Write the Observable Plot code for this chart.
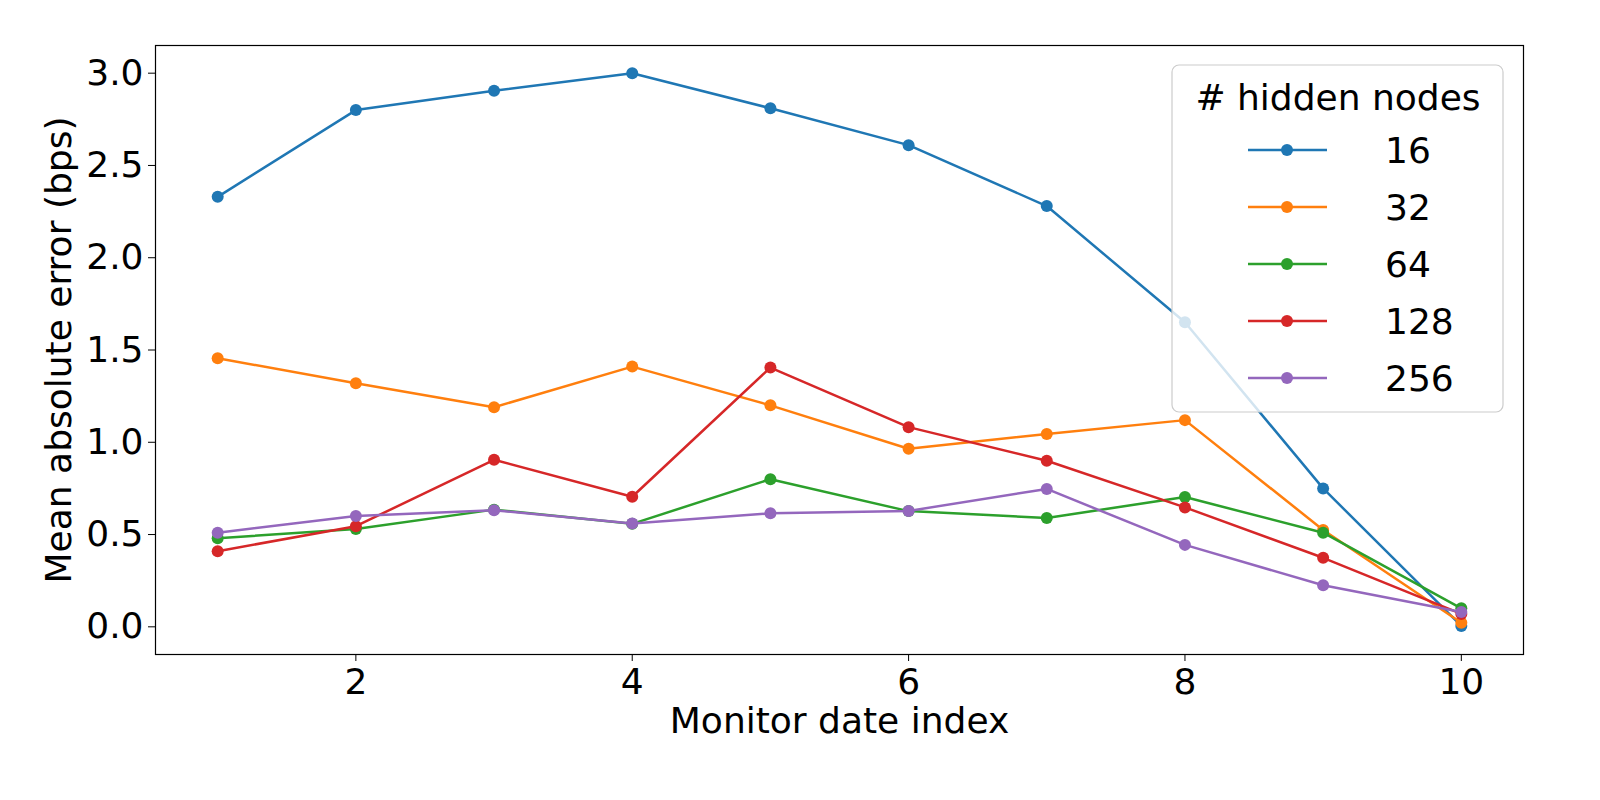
<!DOCTYPE html>
<html><head><meta charset="utf-8">
<script src="https://cdn.jsdelivr.net/npm/d3@7"></script>
<script src="https://cdn.jsdelivr.net/npm/@observablehq/plot@0.6"></script>
<style>html,body{margin:0;padding:0;background:#fff;overflow:hidden;} #chart{width:1600px;height:800px;} #chart svg{display:block;max-width:none;}</style>
</head><body><div id="chart"></div>
<script>
const dateIndex = [1, 2, 3, 4, 5, 6, 7, 8, 9, 10];
const seriesNames = ["16", "32", "64", "128", "256"];
const mae16  = [2.33, 2.80, 2.905, 3.00, 2.81, 2.61, 2.28, 1.65, 0.75, 0.005];
const mae32  = [1.455, 1.32, 1.19, 1.41, 1.20, 0.965, 1.045, 1.12, 0.525, 0.022];
const mae64  = [0.48, 0.53, 0.635, 0.558, 0.80, 0.627, 0.59, 0.703, 0.51, 0.10];
const mae128 = [0.41, 0.545, 0.905, 0.705, 1.405, 1.082, 0.90, 0.647, 0.374, 0.07];
const mae256 = [0.51, 0.60, 0.632, 0.56, 0.615, 0.628, 0.747, 0.444, 0.225, 0.08];
const seriesValues = [mae16, mae32, mae64, mae128, mae256];
const palette = ["#1f77b4", "#ff7f0e", "#2ca02c", "#d62728", "#9467bd"];
const xTicks = [2, 4, 6, 8, 10];
const yTicks = [0, 0.5, 1, 1.5, 2, 2.5, 3];
const xLabel = "Monitor date index";
const yLabel = "Mean absolute error (bps)";
const legendTitle = "# hidden nodes";

const rows = seriesNames.flatMap((name, i) =>
  dateIndex.map((d, j) => ({nodes: name, index: d, mae: seriesValues[i][j]})));

const FONT = "DejaVu Sans";
const marks = [];
for (const name of seriesNames) {
  const sub = rows.filter(r => r.nodes === name);
  marks.push(Plot.line(sub, {x: "index", y: "mae", stroke: "nodes", strokeWidth: 2.5}));
  marks.push(Plot.dot(sub, {x: "index", y: "mae", fill: "nodes", r: 6}));
}

const svg = Plot.plot({
  width: 1600, height: 800,
  marginLeft: 155, marginRight: 77, marginTop: 45, marginBottom: 146,
  style: {fontFamily: FONT, fontSize: "36px", color: "black", background: "white"},
  x: {domain: [0.55, 10.45]},
  y: {domain: [-0.15, 3.15]},
  color: {domain: seriesNames, range: palette},
  marks: [
    ...marks,
    Plot.frame({stroke: "black", strokeWidth: 1.2}),
    Plot.axisX({ticks: xTicks, tickSize: 7, tickPadding: 7, fontSize: 36, label: null, tickFormat: d3.format("d")}),
    Plot.axisY({ticks: yTicks, tickSize: 7, tickPadding: 5, fontSize: 36, label: null, tickFormat: d3.format(".1f")}),
    Plot.text([xLabel], {frameAnchor: "bottom", dy: 67, textAnchor: "middle", lineAnchor: "middle", fontSize: 36, fill: "black"}),
    Plot.text([yLabel], {frameAnchor: "left", dx: -96, textAnchor: "middle", lineAnchor: "middle", rotate: -90, fontSize: 36, fill: "black"})
  ]
});
document.getElementById("chart").appendChild(svg);

// Legend inside the plot (upper right)
const color = svg.scale("color");
const lg = d3.select(svg).append("g").attr("font-family", FONT).attr("font-size", 36);
lg.append("rect").attr("x", 1172).attr("y", 65).attr("width", 331).attr("height", 347)
  .attr("rx", 7).attr("fill", "white").attr("fill-opacity", 0.8)
  .attr("stroke", "#cccccc").attr("stroke-width", 1.2);
lg.append("text").attr("x", 1338).attr("y", 97).attr("dy", "0.35em").attr("text-anchor", "middle").attr("fill", "black").text(legendTitle);
seriesNames.forEach((name, i) => {
  const cy = 150 + i * 57;
  const c = color.apply(name);
  lg.append("line").attr("x1", 1248).attr("x2", 1327).attr("y1", cy).attr("y2", cy)
    .attr("stroke", c).attr("stroke-width", 2.5);
  lg.append("circle").attr("cx", 1287).attr("cy", cy).attr("r", 6).attr("fill", c);
  lg.append("text").attr("x", 1385).attr("y", cy).attr("dy", "0.35em").attr("text-anchor", "start").attr("fill", "black").text(name);
});
</script>
</body></html>
